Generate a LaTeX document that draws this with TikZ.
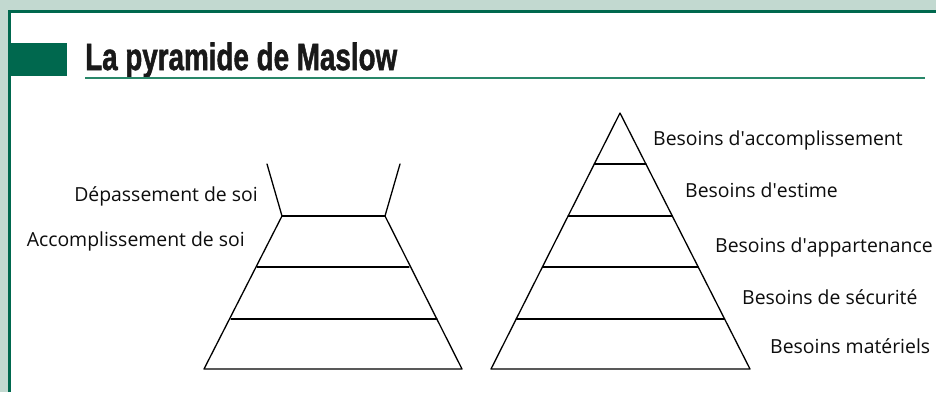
\documentclass[tikz,border=0pt]{standalone}
\usepackage{fontspec}
\usepackage{graphicx}
\setmainfont{Open Sans}
\newfontfamily\titlefont[BoldFeatures={FakeBold=1.6}]{Liberation Sans}
\usetikzlibrary{positioning,calc}
\definecolor{framebg}{RGB}{194,217,208}
\definecolor{framegreen}{RGB}{0,104,78}
\definecolor{rulegreen}{RGB}{40,135,105}
\newcommand{\apos}{\textquotesingle}
\tikzset{
  frameln/.style={framegreen, line width=3pt},
  stageln/.style={line width=1.3pt, line cap=round, line join=round},
  lbl/.style={inner sep=0pt, font=\fontsize{19.4}{21}\selectfont, text=black!95},
}

\begin{document}
\begin{tikzpicture}[x=1pt, y=-1pt]
    \useasboundingbox (0,0) rectangle (936,392);
    % frame
    \fill[framebg] (0,0) rectangle (936,392);
    \fill[white] (10,12) rectangle (936,392);
    \draw[frameln] (9.5,392) -- (9.5,11.5) -- (936,11.5);
    % title
    \fill[framegreen] (8,43) rectangle (67,76);
    \node[anchor=base west, inner sep=0pt, text=black!90] (title) at (85,70)
      {\resizebox{312pt}{27.5pt}{\titlefont\bfseries La pyramide de Maslow}};
    \draw[rulegreen, line width=2pt] (85,77.5) -- (925,77.5);

    % left pyramid
    \coordinate (lbl) at (204,369);
    \coordinate (lbr) at (462,369);
    \coordinate (ltl) at (282,216);
    \coordinate (ltr) at (385,216);
    \coordinate (lfl) at (267,164);
    \coordinate (lfr) at (400,164);
    \draw[stageln] (lfl) -- (ltl) -- (lbl) -- (lbr) -- (ltr) -- (lfr);
    \draw[stageln] (ltl) -- (ltr);
    \draw[stageln] (257,267) -- (409,267);
    \draw[stageln] (231,319) -- (437,319);
    \node[lbl, anchor=base east] (depass) at (258,201) {Dépassement de soi};
    \node[lbl, anchor=base east] (accsoi) at (245,246) {Accomplissement de soi};

    % right pyramid
    \coordinate (rtop) at (620,113);
    \coordinate (rbl) at (491,369);
    \coordinate (rbr) at (750,369);
    \draw[stageln] (rtop) -- (rbl) -- (rbr) -- cycle;
    \foreach \y in {164,216,267,319}
      \draw[stageln] ($(rtop)!{(\y-113)/256}!(rbl)$) -- ($(rtop)!{(\y-113)/256}!(rbr)$);
    \node[lbl, anchor=base west] (accomp) at (653,145) {Besoins d\apos accomplissement};
    \node[lbl, anchor=base west] (estime) at (685,197) {Besoins d\apos estime};
    \node[lbl, anchor=base west] (appart) at (715,252) {Besoins d\apos appartenance};
    \node[lbl, anchor=base west] (secur) at (742,304) {Besoins de sécurité};
    \node[lbl, anchor=base west] (mater) at (770,353) {Besoins matériels};
\end{tikzpicture}
\end{document}
